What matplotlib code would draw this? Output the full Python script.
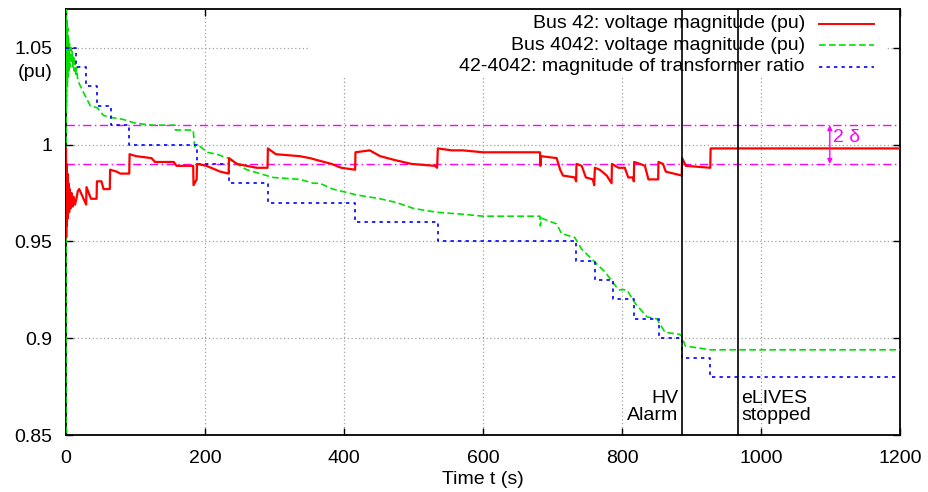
import matplotlib
matplotlib.use("Agg")
import matplotlib.pyplot as plt
from matplotlib.patches import Rectangle
from matplotlib.lines import Line2D

plt.rcParams['font.family'] = ['Liberation Sans', 'DejaVu Sans']

# ---------------- data ----------------
red_t = [0, 0.3, 0.8, 1.3, 2, 2.7, 3.5, 4.5, 5.5, 6.5, 8, 9.5, 11, 13, 15, 17, 19, 29, 29.5, 36, 44, 44.5,
         51, 54, 63, 63.5, 73, 78, 91, 91.5, 101, 123, 128, 155, 159, 183, 183.5, 188, 188.5, 202, 222,
         234, 234.5, 246, 260, 274, 290, 290.5, 302, 336, 351, 361, 382, 396, 416, 416.5, 437, 452, 473,
         497, 531, 534, 535, 555, 571, 600, 682, 682.5, 683.5, 706, 711, 715, 732, 734, 734.5, 742, 748,
         758, 760, 761, 768, 778, 785, 785.5, 795, 804, 809, 816, 817, 817.5, 826, 833, 838, 852, 852.5,
         859, 863, 886, 886.5, 892, 927, 927.5, 1200]
red_v = [0.998, 0.952, 0.990, 0.958, 0.985, 0.962, 0.980, 0.965, 0.977, 0.967, 0.975, 0.968, 0.973, 0.969,
         0.972, 0.976, 0.977, 0.969, 0.978, 0.972, 0.972, 0.981, 0.981, 0.977, 0.977, 0.987, 0.986, 0.985,
         0.985, 0.995, 0.994, 0.993, 0.991, 0.991, 0.989, 0.989, 0.979, 0.982, 0.990, 0.989, 0.986, 0.985,
         0.993, 0.990, 0.989, 0.988, 0.988, 0.998, 0.995, 0.994, 0.993, 0.992, 0.990, 0.988, 0.987, 0.996,
         0.997, 0.994, 0.992, 0.990, 0.989, 0.988, 0.998, 0.997, 0.997, 0.996, 0.996, 0.989, 0.994, 0.993,
         0.987, 0.984, 0.983, 0.981, 0.990, 0.989, 0.983, 0.982, 0.979, 0.988, 0.987, 0.984, 0.980, 0.990,
         0.988, 0.988, 0.983, 0.983, 0.981, 0.991, 0.990, 0.989, 0.982, 0.982, 0.991, 0.990, 0.986, 0.984,
         0.993, 0.989, 0.988, 0.998, 0.998]

green_t = [0, 0.3, 0.8, 1.5, 2, 2.5, 3, 3.5, 4, 5, 6, 7, 8, 9, 10, 11, 12, 13, 14, 15, 17, 25, 35, 45, 54,
           65, 82, 100, 125, 157, 157.5, 183, 185, 193, 203, 217, 233, 241, 260, 298, 337, 356, 365, 384,
           418, 452, 476, 500, 534, 571, 600, 682, 682.5, 684, 706, 713, 732, 742, 759, 776, 795, 807,
           819, 836, 850, 862, 883, 886, 891, 927, 1200]
green_v = [0.800, 1.070, 1.020, 1.065, 1.030, 1.060, 1.035, 1.055, 1.038, 1.052, 1.040, 1.050, 1.042, 1.048,
           1.040, 1.046, 1.038, 1.043, 1.036, 1.040, 1.033, 1.027, 1.020, 1.019, 1.015, 1.014, 1.013, 1.011,
           1.010, 1.010, 1.0075, 1.0075, 0.999, 0.999, 0.996, 0.995, 0.993, 0.991, 0.987, 0.983, 0.982,
           0.980, 0.980, 0.977, 0.974, 0.972, 0.970, 0.967, 0.965, 0.964, 0.963, 0.963, 0.958, 0.962, 0.959,
           0.954, 0.952, 0.946, 0.940, 0.934, 0.925, 0.925, 0.918, 0.911, 0.910, 0.903, 0.902, 0.901, 0.896,
           0.894, 0.894]

blue_t = [0, 14, 29, 45, 65, 91, 188, 234, 290, 416, 535, 734, 761, 787, 817, 853, 887, 927, 1200]
blue_v = [1.05, 1.04, 1.03, 1.02, 1.01, 1.00, 0.99, 0.98, 0.97, 0.96, 0.95, 0.94, 0.93, 0.92, 0.91,
          0.90, 0.89, 0.88, 0.88]

labels = ["Bus 42: voltage magnitude (pu)",
          "Bus 4042: voltage magnitude (pu)",
          "42-4042: magnitude of transformer ratio"]

band_lo, band_hi = 0.99, 1.01
t_alarm, t_stop = 886, 967
t_delta = 1099

x_ticks = [0, 200, 400, 600, 800, 1000, 1200]
y_ticks = [0.85, 0.9, 0.95, 1.0, 1.05]
y_ticklabels = ["0.85", "0.9", "0.95", "1", "1.05"]

FS = 14

# ---------------- figure ----------------
fig = plt.figure(figsize=(9.29, 4.92), dpi=100)
ax = fig.add_axes([66/929, 1-435/492, 834/929, 426/492])
ax.set_xlim(0, 1200)
ax.set_ylim(0.85, 1.07)
ax.set_axisbelow(True)

ax.grid(True, color='#a0a0a0', linestyle=(0, (1, 2)), linewidth=0.9)

ax.plot(red_t, red_v, color='#ff0000', lw=1.6, zorder=4)
ax.plot(green_t, green_v, color='#00e000', lw=1.2, dashes=(4, 2), zorder=3)
ax.plot(blue_t, blue_v, color='#0000ff', lw=1.2, dashes=(2, 2.5), drawstyle='steps-post', zorder=3)

for yb in (band_lo, band_hi):
    ax.axhline(yb, color='#ff00ff', lw=1.0, dashes=(6, 2.5, 1, 2.5), zorder=2)

ax.axvline(t_alarm, color='black', lw=1.2, zorder=5)
ax.axvline(t_stop, color='black', lw=1.2, zorder=5)

ax.annotate('', xy=(t_delta, band_lo), xytext=(t_delta, band_hi),
            arrowprops=dict(arrowstyle='<|-|>', color='#ff00ff', lw=1.0,
                            mutation_scale=7, shrinkA=0, shrinkB=0), zorder=6)
ax.text(t_delta + 4, 1.0035, "2 δ", color='#ff00ff', fontsize=FS, va='center', ha='left')

ax.text(t_alarm - 5, 0.8645, "HV\nAlarm", ha='right', va='center', fontsize=FS, linespacing=1.05)
ax.text(t_stop + 5, 0.8645, "eLIVES\nstopped", ha='left', va='center', fontsize=FS, linespacing=1.05)

# legend box (opaque, no frame) drawn gnuplot-style
ax.add_patch(Rectangle((0.290, 0.838), 0.693, 0.162, transform=ax.transAxes,
                       facecolor='white', edgecolor='none', zorder=1.5))
rows_y = [0.965, 0.915, 0.864]
styles = [dict(color='#ff0000', lw=1.4),
          dict(color='#00e000', lw=1.2, dashes=(4, 2)),
          dict(color='#0000ff', lw=1.2, dashes=(2, 2.5))]
for lab, yy, st in zip(labels, rows_y, styles):
    ax.text(0.886, yy, lab, transform=ax.transAxes, ha='right', va='center', fontsize=FS, zorder=7)
    ax.add_line(Line2D([0.903, 0.969], [yy, yy], transform=ax.transAxes, zorder=7, **st))

ax.set_xticks(x_ticks)
ax.set_yticks(y_ticks)
ax.set_yticklabels(y_ticklabels)
ax.tick_params(direction='in', top=True, right=True, length=5, width=1.0, labelsize=FS)
ax.tick_params(axis='x', pad=11)
ax.tick_params(axis='y', pad=10)
for s in ax.spines.values():
    s.set_linewidth(1.3)

ax.text(-0.0156, 0.85, "(pu)", transform=ax.transAxes, ha='right', va='center', fontsize=FS)
ax.set_xlabel("Time t (s)", fontsize=FS, labelpad=3)

fig.savefig("out.png", dpi=100)
